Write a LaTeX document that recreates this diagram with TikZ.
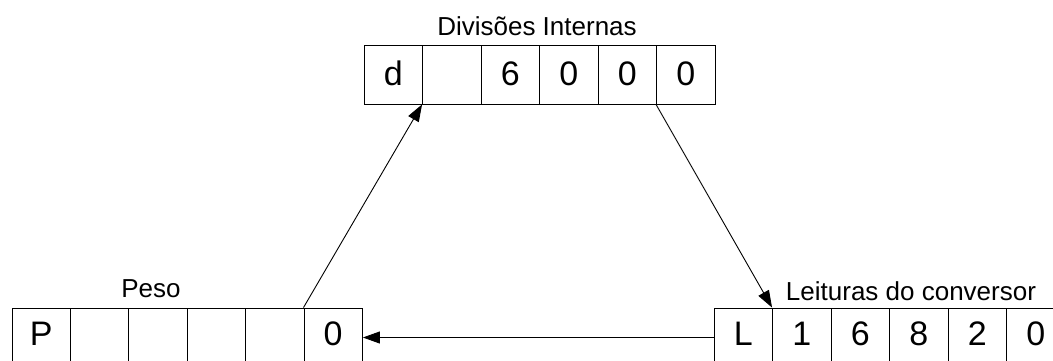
\documentclass[tikz,border=0pt]{standalone}
\usepackage{fontspec}
\setmainfont{Liberation Sans}
\usetikzlibrary{arrows.meta}
\begin{document}
\begin{tikzpicture}[x=1pt,y=-1pt,
  cell/.style={draw,line width=0.9pt,minimum width=58.5pt,minimum height=59pt,inner sep=0pt,
    font=\fontsize{34}{36}\selectfont,text height=24pt,text depth=2pt},
  lowcell/.style={cell,text depth=8pt},
  lbl/.style={font=\fontsize{26}{28}\selectfont,anchor=base,inner sep=0pt},
  conn/.style={line width=0.9pt,-{Triangle[length=17pt,width=12pt]}}]
\useasboundingbox (0,0) rectangle (1053,360);
% top row
\foreach \t [count=\i] in {d,,6,0,0,0}
  \node[cell] (t\i) at ({364+29.25+58.5*(\i-1)},74.5) {\t};
% Peso row
\foreach \t [count=\i] in {P,,,,,0}
  \node[lowcell] (p\i) at ({12+29.2+58.4*(\i-1)},337.5) {\t};
% Leituras row
\foreach \t [count=\i] in {L,1,6,8,2,0}
  \node[lowcell] (l\i) at ({714+29.25+58.5*(\i-1)},337.5) {\t};
\node[lbl] (lt) at (537,35) {Divisões Internas};
\node[lbl] (lp) at (151,297) {Peso};
\node[lbl] (ll) at (911,300) {Leituras do conversor};
\draw[conn] (p6.north west) -- (t2.south west);
\draw[conn] (t6.south west) -- (l2.north west);
\draw[conn] (l1.west) -- (p6.east);
\end{tikzpicture}
\end{document}
